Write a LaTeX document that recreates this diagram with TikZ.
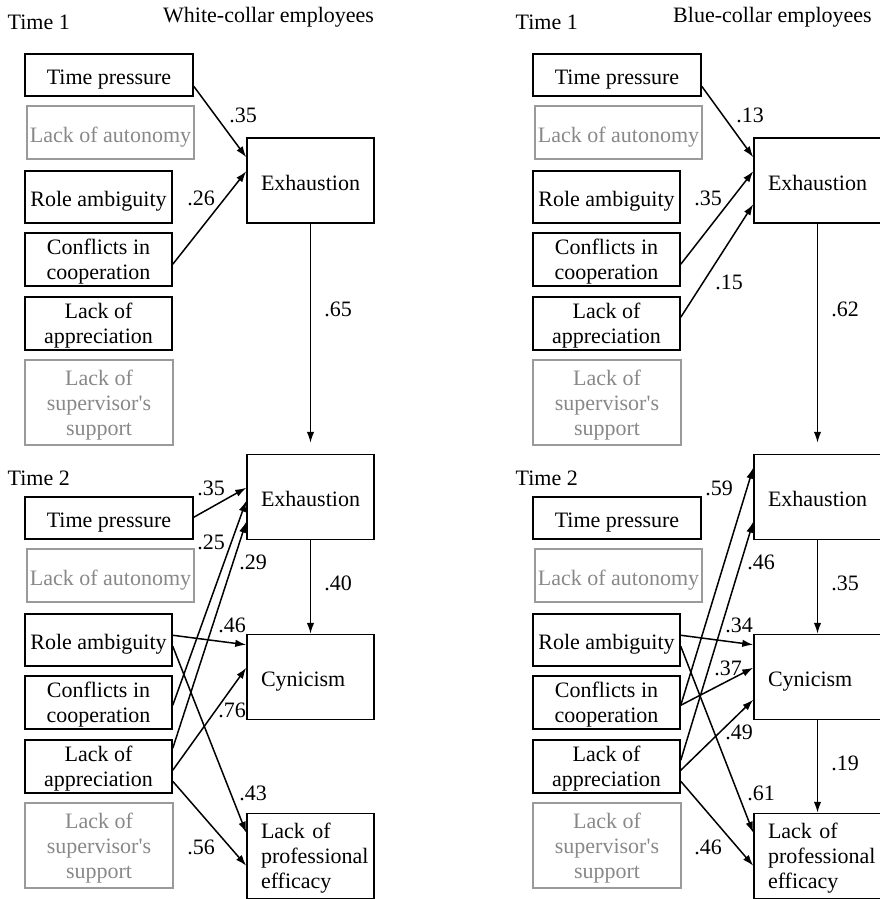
\documentclass[tikz,border=0pt]{standalone}
\usepackage{fontspec}
\setmainfont{Liberation Serif}
\usetikzlibrary{arrows.meta}
\definecolor{faded}{HTML}{888888}
\begin{document}
\begin{tikzpicture}[x=1pt,y=-1pt,
  font=\fontsize{22}{25}\selectfont,
  box/.style={draw,line width=1.5pt,inner sep=0pt,align=center,text depth=0pt,
    minimum width=147pt,minimum height=52pt},
  off/.style={box,draw=faded!85,text=faded},
  single/.style={text height=19pt,text depth=0pt},
  outcome/.style={draw,line width=1.5pt,inner sep=0pt,text height=19pt,
    minimum width=127pt,minimum height=85pt,text width=122pt,align=left,
    execute at begin node={\leftskip=11.5pt\hyphenpenalty=10000}},
  effect/.style={line width=1.5pt,-{Latex[length=11pt,width=7.5pt]}},
  caption/.style={anchor=base west,inner sep=0pt},
  coef/.style={inner sep=0pt}
  ]
  \useasboundingbox (0,0) rectangle (879,899);
  \foreach \g/\t/\ty/\dx/\dy in {w1/1/30/0/0, w2/2/42/0/443, b1/1/30/508/0, b2/2/42/508/443} {
    \begin{scope}[shift={(\dx,\dy)}]
      \node[caption] (\g time) at (7.5,\ty) {Time \t};
      \node[box,single,minimum width=168pt,minimum height=42pt] (\g tp) at (109,75) {Time pressure};
      \node[off,single,minimum width=167pt,minimum height=53pt] (\g au) at (110.5,132.5) {Lack of autonomy};
      \node[box,single] (\g ra) at (98.5,197) {Role ambiguity};
      \node[box,minimum height=53pt] (\g co) at (98.5,259.5) {Conflicts in\\cooperation};
      \node[box,minimum height=53pt] (\g ap) at (98.5,323.5) {Lack of\\appreciation};
      \node[off,minimum width=148pt,minimum height=85pt] (\g su) at (99,402.5)
        {Lack of\\supervisor\textquotesingle s\\support};
    \end{scope}
  }
  \node[caption] (wtitle) at (163,22.5) {White-collar employees};
  \node[caption] (btitle) at (673,22.5) {Blue-collar employees};

  \node[outcome,single] (w1ex) at (310.5,180.5) {Exhaustion};
  \node[outcome,single] (w2ex) at (310.5,497) {Exhaustion};
  \node[outcome,single] (w2cy) at (310.5,677) {Cynicism};
  \node[outcome] (w2pe) at (310.5,856) {Lack of\\professional\\efficacy};
  \node[outcome,single] (b1ex) at (817.5,180.5) {Exhaustion};
  \node[outcome,single] (b2ex) at (817.5,497) {Exhaustion};
  \node[outcome,single] (b2cy) at (817.5,677) {Cynicism};
  \node[outcome] (b2pe) at (817.5,856) {Lack of\\professional\\efficacy};

  % white-collar
  \draw[effect] ([yshift=-33pt]w1tp.north east) -- ([yshift=-20pt]w1ex.north west);
  \draw[effect] ([yshift=-32pt]w1co.north east) -- ([yshift=-34pt]w1ex.north west);
  \draw[effect,shorten >=11pt] (w1ex) -- (w2ex);
  \draw[effect] ([yshift=-21pt]w2tp.north east) -- ([yshift=-34pt]w2ex.north west);
  \draw[effect] ([yshift=-30pt]w2co.north east) -- ([yshift=-47pt]w2ex.north west);
  \draw[effect] ([yshift=-9pt]w2ap.north east) -- ([yshift=-68pt]w2ex.north west);
  \draw[effect] ([yshift=-22pt]w2ra.north east) -- ([yshift=-11pt]w2cy.north west);
  \draw[effect] ([yshift=-33pt]w2ra.north east) -- ([yshift=-20pt]w2pe.north west);
  \draw[effect] ([yshift=-31pt]w2ap.north east) -- ([yshift=-34pt]w2cy.north west);
  \draw[effect] ([yshift=-42pt]w2ap.north east) -- ([yshift=-53pt]w2pe.north west);
  \draw[effect] (w2ex) -- (w2cy);

  % blue-collar
  \draw[effect] ([yshift=-33pt]b1tp.north east) -- ([yshift=-20pt]b1ex.north west);
  \draw[effect] ([yshift=-32pt]b1co.north east) -- ([yshift=-34pt]b1ex.north west);
  \draw[effect] ([yshift=-21pt]b1ap.north east) -- ([yshift=-67pt]b1ex.north west);
  \draw[effect,shorten >=11pt] (b1ex) -- (b2ex);
  \draw[effect] ([yshift=-30pt]b2co.north east) -- ([yshift=-14pt]b2ex.north west);
  \draw[effect] ([yshift=-21pt]b2ap.north east) -- ([yshift=-68pt]b2ex.north west);
  \draw[effect] ([yshift=-22pt]b2ra.north east) -- ([yshift=-11pt]b2cy.north west);
  \draw[effect] ([yshift=-30pt]b2co.north east) -- ([yshift=-34pt]b2cy.north west);
  \draw[effect] ([yshift=-31pt]b2ap.north east) -- ([yshift=-66pt]b2cy.north west);
  \draw[effect] ([yshift=-33pt]b2ra.north east) -- ([yshift=-20pt]b2pe.north west);
  \draw[effect] ([yshift=-42pt]b2ap.north east) -- ([yshift=-53pt]b2pe.north west);
  \draw[effect] (b2ex) -- (b2cy);
  \draw[effect] (b2cy) -- (b2pe);

  \foreach \n/\x/\y/\v in {w1tpex/243/115/.35, w1coex/201/198/.26, w1exex/338/309/.65,
      w2tpex/211/488/.35, w2coex/211/542/.25, w2apex/253/562/.29, w2excy/338/583/.40,
      w2racy/232/625/.46, w2apcy/232/710/.76, w2rape/253/793/.43, w2appe/201/847/.56,
      b1tpex/750/115/.13, b1coex/708/198/.35, b1apex/729/282/.15, b1exex/845/309/.62,
      b2coex/719/488/.59, b2apex/761/562/.46, b2excy/845/583/.35, b2racy/739/625/.34,
      b2cocy/728/668/.37, b2apcy/739/732/.49, b2cype/845/763/.19, b2rape/761/793/.61,
      b2appe/708/847/.46}
    \node[coef] (\n) at (\x,\y) {\v};
\end{tikzpicture}
\end{document}
